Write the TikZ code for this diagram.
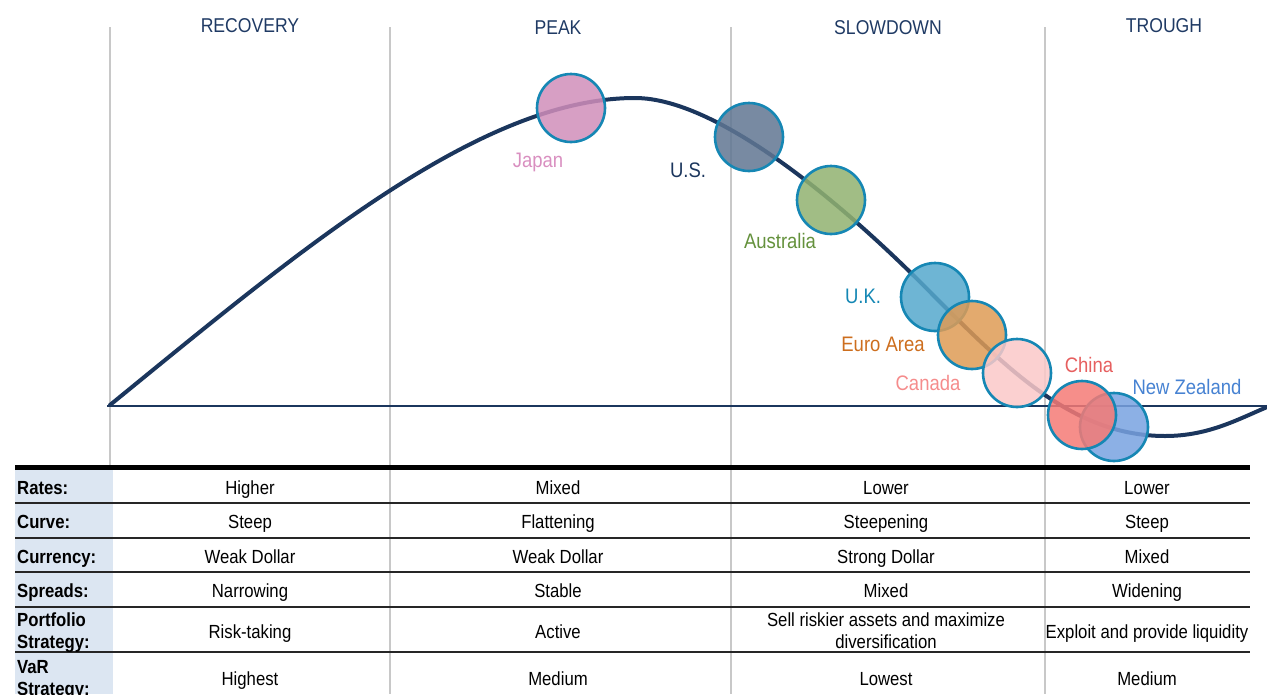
\documentclass[tikz,border=0pt]{standalone}
\usepackage{fontspec}
\setmainfont{Liberation Sans}[FakeStretch=0.88]
\usetikzlibrary{positioning}
\definecolor{navy}{RGB}{27,54,93}
\definecolor{headblue}{RGB}{31,58,100}
\definecolor{ringblue}{RGB}{22,135,180}
\definecolor{gridgray}{RGB}{200,200,200}
\definecolor{labfill}{RGB}{220,230,242}
% fills and label colours of the countries
\definecolor{japanfill}{RGB}{208,142,186}  \definecolor{japantxt}{RGB}{217,143,192}
\definecolor{usfill}{RGB}{96,118,146}      \definecolor{ustxt}{RGB}{27,54,93}
\definecolor{ausfill}{RGB}{145,178,112}    \definecolor{austxt}{RGB}{100,145,60}
\definecolor{ukfill}{RGB}{85,168,204}      \definecolor{uktxt}{RGB}{20,135,180}
\definecolor{eurofill}{RGB}{222,155,85}    \definecolor{eurotxt}{RGB}{205,110,30}
\definecolor{canfill}{RGB}{250,200,200}    \definecolor{cantxt}{RGB}{245,140,140}
\definecolor{chinafill}{RGB}{245,122,117}  \definecolor{chinatxt}{RGB}{230,95,95}
\definecolor{nzfill}{RGB}{120,162,224}     \definecolor{nztxt}{RGB}{70,130,210}

\begin{document}
\begin{tikzpicture}[x=1pt,y=-1pt,
    phase/.style={font=\fontsize{20}{24}\selectfont,text=headblue,
                  execute at begin node=\strut,yshift=-3pt},
    ball/.style={circle,minimum size=68pt,inner sep=0pt,draw=ringblue,
                 line width=2.6pt,fill opacity=0.85},
    tag/.style={font=\fontsize{21}{24}\selectfont,execute at begin node=\strut,
                yshift=-3pt},
    cell/.style={font=\fontsize{19}{22}\selectfont,align=center,
                 execute at begin node=\strut,yshift=-3pt},
    rowhead/.style={font=\fontsize{19}{22}\selectfont\bfseries,align=left,
                    anchor=west,inner sep=2pt,execute at begin node=\strut,
                    yshift=-3pt},
    gridline/.style={gridgray,line width=2.5pt},
    rowrule/.style={line width=1.3pt,black!85},
  ]
    \useasboundingbox (0,0) rectangle (1267,694);
    \clip (0,0) rectangle (1267,694);
    % phase separators
    \foreach \x in {110,390,731,1045}
      \draw[gridline] (\x,27) -- (\x,694);
    \node[phase] (recovery) at (250,25) {RECOVERY};
    \node[phase] (peak) at (558,27) {PEAK};
    \node[phase] (slowdown) at (888,27) {SLOWDOWN};
    \node[phase] (trough) at (1164,25) {TROUGH};
    % axis and cycle curve
    \draw[navy,line width=1.2pt] (107,406) -- (1267,406);
    \draw[navy,line width=4pt,line cap=round]
      (110,405) .. controls (300,250) and (480,98) .. (635,98)
      .. controls (720,98) and (850,210) .. (935,297)
      .. controls (1010,372) and (1075,436) .. (1165,436)
      .. controls (1210,436) and (1240,418) .. (1272,405);
    % countries
    \node[ball,fill=japanfill] (japan) at (571,108) {};
    \node[ball,fill=usfill] (us) at (749,137) {};
    \node[ball,fill=ausfill] (aus) at (831,200) {};
    \node[ball,fill=ukfill] (uk) at (935,297) {};
    \node[ball,fill=eurofill] (euro) at (972,335) {};
    \node[ball,fill=canfill] (canada) at (1017,373) {};
    \node[ball,fill=nzfill] (nz) at (1114,427) {};
    \node[ball,fill=chinafill] (china) at (1082,415) {};
    \node[tag,text=japantxt] (japanlab) at (538,160) {Japan};
    \node[tag,text=ustxt] (uslab) at (688,170) {U.S.};
    \node[tag,text=austxt] (auslab) at (780,241) {Australia};
    \node[tag,text=uktxt] (uklab) at (863,296) {U.K.};
    \node[tag,text=eurotxt] (eurolab) at (883,344) {Euro Area};
    \node[tag,text=cantxt] (canadalab) at (928,383) {Canada};
    \node[tag,text=chinatxt] (chinalab) at (1089,365) {China};
    \node[tag,text=nztxt] (nzlab) at (1187,387) {New Zealand};
    % table
    \fill[labfill] (15,469) rectangle (113,694);
    \draw[line width=5pt,black] (15,467) -- (1250,467);
    \foreach \y in {503,538,572,607,652}
      \draw[rowrule] (15,\y) -- (1250,\y);
    \foreach \y/\lab/\a/\b/\c/\d [count=\i] in {
        487/Rates:/Higher/Mixed/Lower/Lower,
        521/Curve:/Steep/Flattening/Steepening/Steep,
        556/Currency:/Weak Dollar/Weak Dollar/Strong Dollar/Mixed,
        590/Spreads:/Narrowing/Stable/Mixed/Widening,
        631/{Portfolio\\Strategy:\strut}/Risk-taking/Active/{Sell riskier assets and maximize\\diversification\strut}/Exploit and provide liquidity,
        678/{VaR\\Strategy:\strut}/Highest/Medium/Lowest/Medium}{
      \node[rowhead] (head\i) at (15,\y) {\lab};
      \node[cell] (rec\i) at (250,\y) {\a};
      \node[cell] (pk\i) at (558,\y) {\b};
      \node[cell] (slow\i) at (886,\y) {\c};
      \node[cell] (tr\i) at (1147,\y) {\d};
    }
\end{tikzpicture}
\end{document}
